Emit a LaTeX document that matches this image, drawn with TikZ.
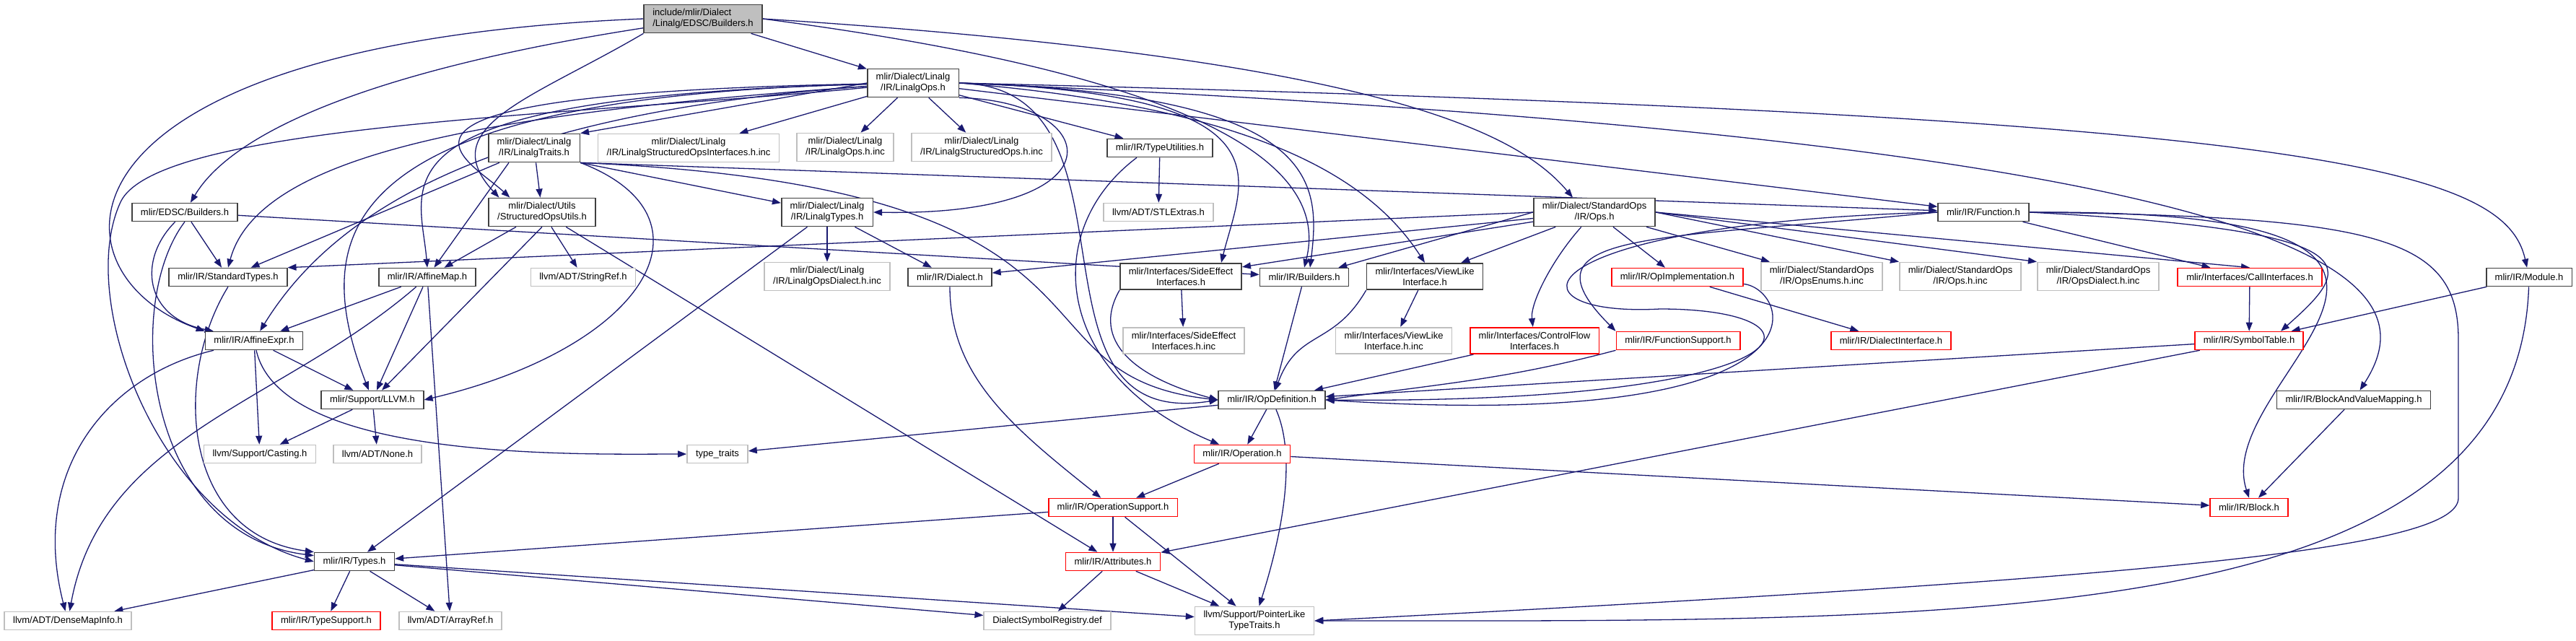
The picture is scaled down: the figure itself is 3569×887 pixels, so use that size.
\documentclass[tikz,border=0pt]{standalone}
\usepackage{fontspec}
\setmainfont{Liberation Sans}
\usetikzlibrary{arrows.meta,backgrounds}
\definecolor{edgeblue}{HTML}{191970}
\definecolor{nodoc}{HTML}{BFBFBF}
\newcommand{\Lin}{mlir/Dialect/Linalg}
\newcommand{\Std}{mlir/Dialect/StandardOps}

\begin{document}
\begin{tikzpicture}[->, >={Triangle[length=12pt, width=9pt]}, x=1pt, y=-1pt,
  hdr/.style={draw=black!75, line width=1.6pt, fill=white, align=center,
    inner xsep=12pt, inner ysep=6pt, minimum height=25pt},
  sys/.style={hdr, draw=nodoc},
  cut/.style={hdr, draw=red},
  top/.style={hdr, fill=nodoc, align=left},
  link/.style={draw=edgeblue, line width=1.3pt},
  every edge/.style={link}]
%
\fontsize{13}{15}\selectfont
\useasboundingbox (0,0) rectangle (3569,887);
%
\node (root) [top] at (974,26) {include/mlir/Dialect\\/Linalg/EDSC/Builders.h};
\node (lops) [hdr] at (1265,115) {\Lin\\/IR/LinalgOps.h};
\node (ltraits) [hdr] at (740,205) {\Lin\\/IR/LinalgTraits.h};
\node (lsoi) [sys] at (954,205) {\Lin\\/IR/LinalgStructuredOpsInterfaces.h.inc};
\node (lopsinc) [sys] at (1171,204) {\Lin\\/IR/LinalgOps.h.inc};
\node (lsopsinc) [sys] at (1360,204) {\Lin\\/IR/LinalgStructuredOps.h.inc};
\node (typeutil) [hdr] at (1607,205) {mlir/IR/TypeUtilities.h};
\node (stlx) [sys] at (1605,294) {llvm/ADT/STLExtras.h};
\node (edsc) [hdr] at (256,294) {mlir/EDSC/Builders.h};
\node (sou) [hdr] at (751,294) {mlir/Dialect/Utils\\/StructuredOpsUtils.h};
\node (ltypes) [hdr] at (1146,294) {\Lin\\/IR/LinalgTypes.h};
\node (stdops) [hdr] at (2209,294) {\Std\\/IR/Ops.h};
\node (function) [hdr] at (2748,294) {mlir/IR/Function.h};
\node (stdtypes) [hdr] at (316,384) {mlir/IR/StandardTypes.h};
\node (amap) [hdr] at (592,384) {mlir/IR/AffineMap.h};
\node (sref) [sys] at (808,384) {llvm/ADT/StringRef.h};
\node (ldialinc) [sys] at (1146,383) {\Lin\\/IR/LinalgOpsDialect.h.inc};
\node (dialect) [hdr] at (1316,384) {mlir/IR/Dialect.h};
\node (sideeff) [hdr] at (1636,383) {mlir/Interfaces/SideEffect\\Interfaces.h};
\node (builders) [hdr] at (1807,384) {mlir/IR/Builders.h};
\node (viewlike) [hdr] at (1974,383) {mlir/Interfaces/ViewLike\\Interface.h};
\node (opimpl) [cut] at (2324,384) {mlir/IR/OpImplementation.h};
\node (opsenums) [sys] at (2524,383) {\Std\\/IR/OpsEnums.h.inc};
\node (opsinc) [sys] at (2716,383) {\Std\\/IR/Ops.h.inc};
\node (opsdialinc) [sys] at (2907,383) {\Std\\/IR/OpsDialect.h.inc};
\node (callif) [cut] at (3117,384) {mlir/Interfaces/CallInterfaces.h};
\node (module) [hdr] at (3504,384) {mlir/IR/Module.h};
\node (aexpr) [hdr] at (352,472) {mlir/IR/AffineExpr.h};
\node (sideinc) [sys] at (1640,472) {mlir/Interfaces/SideEffect\\Interfaces.h.inc};
\node (viewinc) [sys] at (1931,472) {mlir/Interfaces/ViewLike\\Interface.h.inc};
\node (ctrlflow) [cut] at (2126,472) {mlir/Interfaces/ControlFlow\\Interfaces.h};
\node (funcsup) [cut] at (2325,472) {mlir/IR/FunctionSupport.h};
\node (dialif) [cut] at (2620,472) {mlir/IR/DialectInterface.h};
\node (symtab) [cut] at (3116,472) {mlir/IR/SymbolTable.h};
\node (llvm) [hdr] at (516,554) {mlir/Support/LLVM.h};
\node (opdef) [hdr] at (1762,554) {mlir/IR/OpDefinition.h};
\node (bvm) [hdr] at (3261,554) {mlir/IR/BlockAndValueMapping.h};
\node (casting) [sys] at (360,629) {llvm/Support/Casting.h};
\node (none) [sys] at (523,629) {llvm/ADT/None.h};
\node (ttraits) [sys] at (994,629) {type\_traits};
\node (operation) [cut] at (1721,629) {mlir/IR/Operation.h};
\node (opsupport) [cut] at (1542,703) {mlir/IR/OperationSupport.h};
\node (block) [cut] at (3116,703) {mlir/IR/Block.h};
\node (types) [hdr] at (491,778) {mlir/IR/Types.h};
\node (attrs) [cut] at (1542,778) {mlir/IR/Attributes.h};
\node (densemap) [sys] at (94,860) {llvm/ADT/DenseMapInfo.h};
\node (typesup) [cut] at (452,860) {mlir/IR/TypeSupport.h};
\node (aref) [sys] at (624,860) {llvm/ADT/ArrayRef.h};
\node (dsreg) [sys] at (1451,860) {DialectSymbolRegistry.def};
\node (ptrlike) [sys] at (1738,860) {llvm/Support/PointerLike\\TypeTraits.h};
%
\begin{scope}[on background layer]
% root
\path (root) edge (lops);
\draw[link] (root) .. controls (560,90) and (330,170) .. (edsc);
\draw[link] (root.west) .. controls (50,60) and (60,380) .. (aexpr.north west);
\draw[link] (root.south west) .. controls (739,136) and (600,175) .. ([xshift=15pt]sou.north west);
\draw[link] (root.east) .. controls (1900,80) and (2100,180) .. ([xshift=-30pt]stdops.north);
\draw[link] (root.east) .. controls (1700,110) and (1840,240) .. (builders.north);
% LinalgOps
\path (lops.west) edge (ltraits.north east);
\path (lops) edge (lsoi);
\path (lops) edge (lopsinc);
\path (lops) edge (lsopsinc);
\path (lops) edge (typeutil);
\path (lops) edge (function);
\draw[link] (lops.south east) .. controls (1530,140) and (1560,300) .. (ltypes.east);
\draw[link] (lops) .. controls (450,130) and (645,217) .. ([xshift=30pt]sou.north west);
\draw[link] (lops) .. controls (703,155) and (360,207) .. (stdtypes.north);
\draw[link] (lops) .. controls (500,135) and (582,251) .. (amap.north);
\draw[link] (lops) .. controls (703,155) and (470,280) .. (aexpr);
\draw[link] (lops) .. controls (450,135) and (430,330) .. (llvm);
\draw[link] (lops) .. controls (804,160) and (218,171) .. (167,280)
  .. controls (104,416) and (221,721) .. (types.west);
\draw[link] (lops.east) .. controls (1800,130) and (1720,250) .. ([xshift=56pt]sideeff.north);
\draw[link] (lops.east) .. controls (1830,130) and (1830,250) .. ([xshift=8pt]builders.north);
\draw[link] (lops.east) .. controls (1750,150) and (1900,250) .. (viewlike.north);
\draw[link] (lops.east) .. controls (1600,120) and (1400,600) .. (opdef.west);
\draw[link] (lops.east) .. controls (3200,160) and (3470,230) .. (module);
\draw[link] (lops.east) .. controls (3300,200) and (3360,400) .. (bvm);
% LinalgTraits
\path (ltraits) edge (sou);
\path ([xshift=-35pt]ltraits.south) edge (amap);
\path (ltraits) edge (stdtypes);
\path (ltraits.south east) edge (ltypes);
\path (ltraits.south east) edge (function);
\draw[link] (ltraits.south east) .. controls (1000,300) and (900,480) .. (llvm.east);
\draw[link] (ltraits.south east) .. controls (1600,260) and (1380,520) .. (opdef.west);
% StructuredOpsUtils
\path (sou) edge (amap);
\path (sou.south) edge (llvm);
\path (sou) edge (sref);
\path (sou) edge (attrs);
% EDSC
\path (edsc) edge (stdtypes);
\path (edsc) edge (builders);
\draw[link] (edsc) .. controls (190,360) and (200,440) .. ([xshift=12pt]aexpr.north west);
\draw[link] (edsc.south) .. controls (170,420) and (200,740) .. ([yshift=-5pt]types.north west);
% StandardTypes, AffineMap, AffineExpr, LLVM
\draw[link] (stdtypes.south) .. controls (240,520) and (250,740) .. (types.north west);
\path (amap) edge (aexpr);
\path (amap) edge (llvm);
\path (amap) edge (aref);
\draw[link] (amap) .. controls (391,558) and (141,602) .. (densemap);
\path (aexpr) edge (llvm);
\path (aexpr) edge (casting);
\draw[link] (aexpr) .. controls (150,520) and (40,650) .. (densemap);
\draw[link] (aexpr) .. controls (390,640) and (807,629) .. (ttraits);
\path (llvm) edge (casting);
\path (llvm) edge (none);
% Types
\path (types) edge (densemap);
\path (types) edge (typesup);
\path (types) edge (aref);
\path (types) edge (ptrlike);
\path (types) edge (dsreg);
% LinalgTypes, Dialect, TypeUtilities
\path (ltypes) edge (ldialinc);
\path (ltypes) edge (dialect);
\path (ltypes) edge (types);
\draw[link] (dialect) .. controls (1316,520) and (1400,590) .. (opsupport);
\path (typeutil) edge (stlx);
\draw[link] ([xshift=-32pt]typeutil.south) .. controls (1440,320) and (1460,520) .. (operation);
% interfaces
\path (sideeff) edge (sideinc);
\draw[link] (sideeff.south west) .. controls (1511,472) and (1572,523) .. (opdef.west);
\path (viewlike) edge (viewinc);
\draw[link] (viewlike.south west) .. controls (1847,481) and (1798,456) .. (opdef);
\path (builders) edge (opdef);
% StandardOps
\path (stdops.west) edge (stdtypes.north east);
\path (stdops) edge (dialect);
\path (stdops) edge (sideeff);
\path (stdops.west) edge ([xshift=-15pt]builders.north east);
\path (stdops) edge (viewlike);
\path (stdops) edge (opimpl);
\path (stdops) edge (opsenums);
\path (stdops.east) edge (opsinc.north west);
\path (stdops.east) edge (opsdialinc.north west);
\path (stdops.east) edge (callif.north);
\draw[link] (stdops) .. controls (2150,360) and (2120,420) .. (ctrlflow);
\path (ctrlflow) edge (opdef);
\path (opimpl) edge (dialif);
\draw[link] (opimpl) .. controls (2480,400) and (2560,600) .. (opdef.east);
% Function
\path (function) edge (callif);
\draw[link] (function.west) .. controls (2290,333) and (2099,319) .. (funcsup.north west);
\draw[link] (function.west) .. controls (2100,310) and (2080,440) .. (2300,428)
  .. controls (2550,428) and (2520,560) .. (opdef.east);
\draw[link] (function.east) .. controls (3300,320) and (3260,370) .. ([xshift=44pt]symtab.north);
\draw[link] (function.east) .. controls (3550,290) and (3060,520) .. (block.north);
\draw[link] (function.east) .. controls (3300,300) and (3406,330) .. (3406,470)
  -- (3406,690) .. controls (3406,760) and (3000,800) .. (ptrlike.east);
\path (callif) edge (symtab);
\path (module) edge (symtab);
\draw[link] (module) .. controls (3487,877) and (2720,860) .. (ptrlike.east);
\path (symtab) edge (opdef);
\path (symtab) edge (attrs);
\draw[link] (funcsup.south west) .. controls (2085,526) and (1994,532) .. (opdef.east);
\path (bvm) edge (block);
% OpDefinition and below
\path (opdef) edge (operation);
\path (opdef) edge (ttraits);
\draw[link] (opdef) .. controls (1800,640) and (1770,760) .. (ptrlike);
\path (operation) edge (opsupport);
\path (operation) edge (block);
\path (opsupport) edge (attrs);
\path (opsupport) edge (ptrlike);
\path (opsupport) edge (types);
\path (attrs) edge (dsreg);
\path (attrs) edge (ptrlike);
\end{scope}
\end{tikzpicture}
\end{document}
